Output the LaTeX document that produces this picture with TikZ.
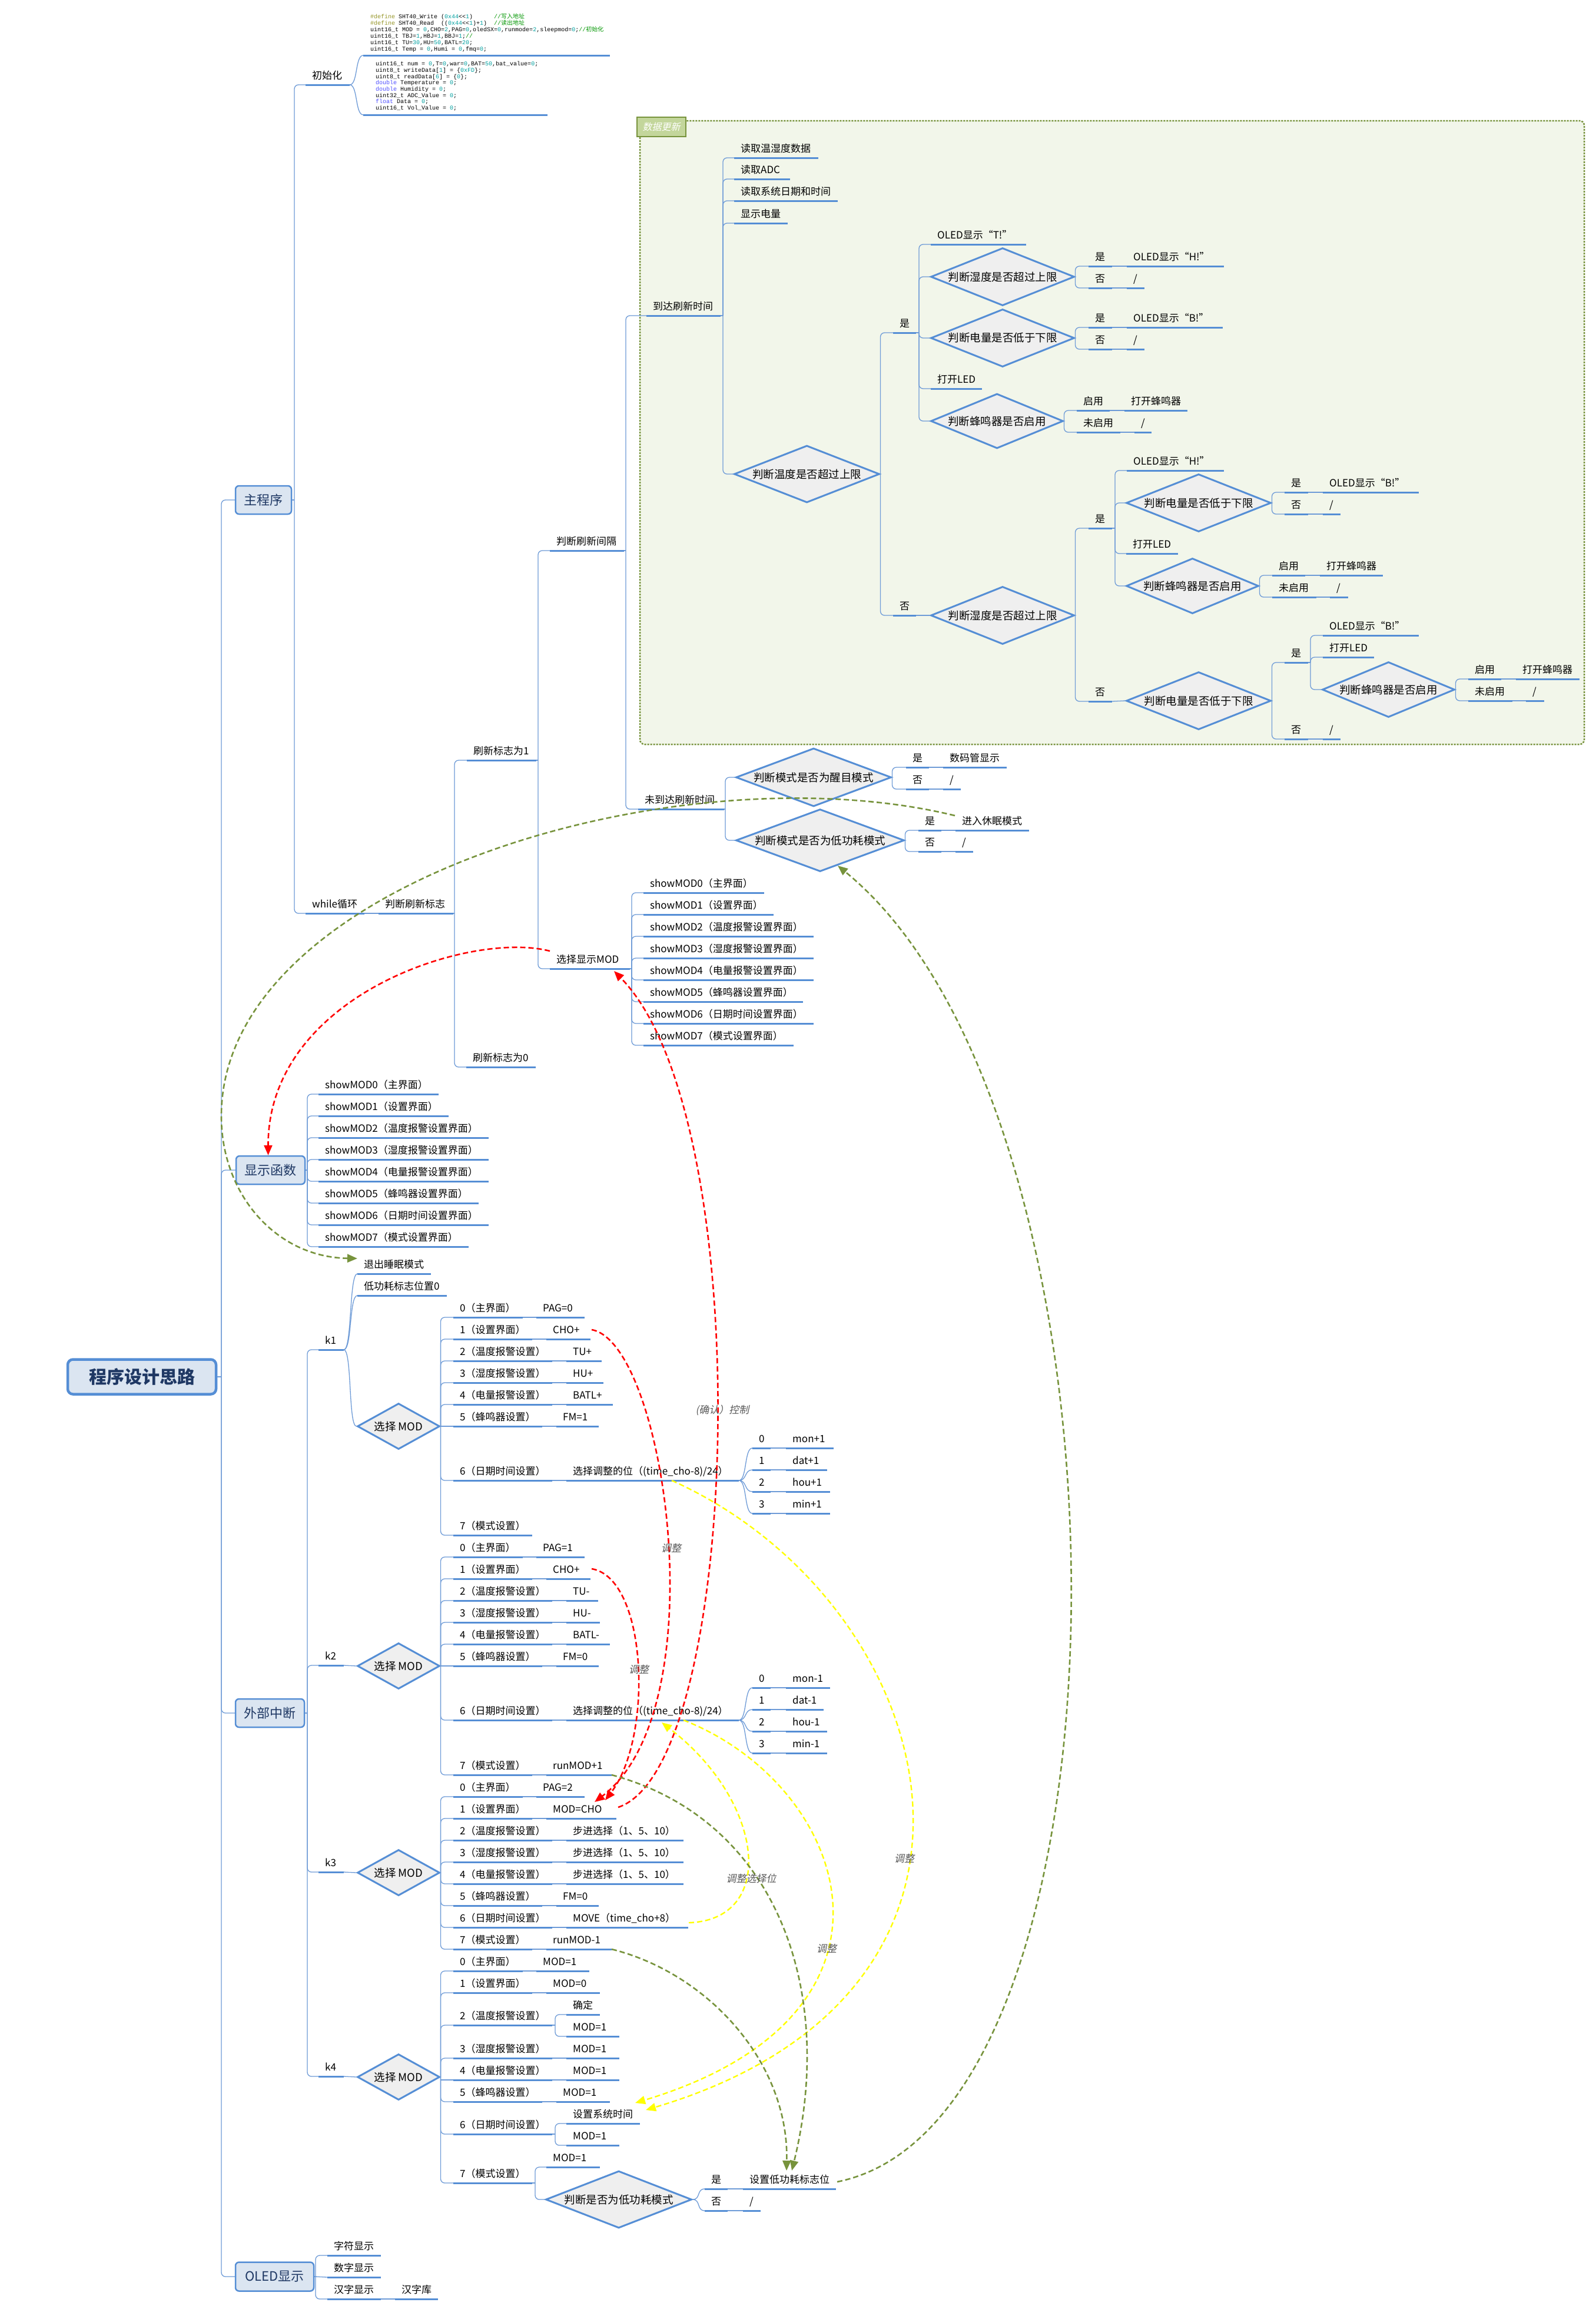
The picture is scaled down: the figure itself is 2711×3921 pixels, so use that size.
\documentclass[tikz,border=0pt]{standalone}
\usepackage{fontspec}
\setmainfont{Noto Sans CJK SC}
\newfontfamily\cjkit[FakeSlant=0.2]{Noto Sans CJK SC}
\newfontfamily\cjkc{Noto Sans CJK SC}
\newfontfamily\codef{Liberation Mono}
\usetikzlibrary{shapes.geometric,arrows.meta}
\definecolor{ublue}{RGB}{85,142,213}
\definecolor{cline}{RGB}{110,155,215}
\definecolor{dfill}{RGB}{239,239,239}
\definecolor{bfill}{RGB}{219,229,241}
\definecolor{navy}{RGB}{31,56,100}
\definecolor{olive}{RGB}{119,147,60}
\definecolor{dbg}{RGB}{242,246,234}
\definecolor{lfill}{RGB}{195,214,155}
\definecolor{cnum}{RGB}{0,160,160}
\definecolor{ccom}{RGB}{0,150,0}
\definecolor{cdef}{RGB}{150,150,40}
\definecolor{ckw}{RGB}{80,80,255}
\definecolor{lblgray}{RGB}{90,90,90}
\definecolor{yel}{RGB}{255,255,0}
\tikzset{
 conn/.style={draw=cline, line width=1.3pt, rounded corners=7pt},
 cconn/.style={draw=cline, line width=1.3pt},
 uline/.style={draw=ublue, line width=3pt},
 lt/.style={anchor=base west, inner sep=0pt, font=\fontsize{17}{20}\selectfont},
 dia/.style={diamond, draw=ublue, line width=3pt, fill=dfill, inner sep=0pt, shape aspect=2.5, font=\fontsize{18.5}{22}\selectfont},
 topbox/.style={draw=ublue, line width=2.5pt, fill=bfill, rounded corners=6pt, text=navy, font=\fontsize{22}{26}\selectfont, inner sep=0pt},
 arrR/.style={draw=red, line width=2.6pt, dash pattern=on 9pt off 5pt, -{Triangle[length=17pt,width=14pt]}},
 arrY/.style={draw=yel, line width=2.4pt, dash pattern=on 9pt off 5pt, -{Triangle[length=17pt,width=14pt]}},
 arrG/.style={draw=olive, line width=2.6pt, dash pattern=on 9pt off 5pt, -{Triangle[length=17pt,width=14pt]}},
 arrGn/.style={draw=olive, line width=2.6pt, dash pattern=on 9pt off 5pt},
 lbl/.style={font=\cjkit\fontsize{17}{20}\selectfont, text=lblgray, inner sep=0pt},
 code/.style={anchor=base west, inner sep=0pt, font=\codef\fontsize{10}{11}\selectfont},
}
\newcommand\LF[5]{\coordinate (#1s) at (#2,#4);\coordinate (#1e) at (#3,#4);\draw[uline] (#1s) -- (#1e);\node[lt] (#1) at (#2+11,#4-10) {#5};}
\newcommand\PR[8]{\LF{#1}{#2}{#3}{#4}{#5}\LF{#1v}{#6}{#7}{#4}{#8}\draw[cconn] (#1e) -- (#1vs);}
\newcommand\OPV[7]{\PR{#1}{770}{#3}{#2}{#4}{#5}{#6}{#7}}
\newcommand\DM[6]{\node[dia, minimum width=#4pt, minimum height=#5pt] (#1) at (#2,#3) {#6};}
\newcommand\BR[3]{\draw[conn] (#1 -| #2) |- (#3);}
\newcommand\BD[2]{\draw[conn] (#1.east) |- (#2);}
\newcommand\ST[2]{\draw[cconn] (#1) -- (#1 -| #2);}
\newcommand\CU[2]{\draw[cconn] (#1) .. controls +(14,0) and +(-14,0) .. (#2);}
\newcommand\NM[1]{\textcolor{cnum}{#1}}
\begin{document}
\begin{tikzpicture}[x=1pt,y=-1pt]
\useasboundingbox (0,0) rectangle (2711,3921);
\fill[white] (0,0) rectangle (2711,3921);
% data update area
\draw[olive, line width=2.5pt, dash pattern=on 3pt off 2pt, fill=dbg, rounded corners=8pt] (1087,205) rectangle (2691,1264);
\node[draw=olive, line width=2.5pt, fill=lfill, minimum width=83pt, minimum height=33pt, inner sep=0pt, text=white, font=\cjkit\fontsize{16}{18}\selectfont] (dlab) at (1123.5,215.5) {数据更新};
% root and level-1
\node[topbox, line width=4.5pt, rounded corners=9pt, minimum width=252pt, minimum height=59pt, font=\bfseries\fontsize{30}{36}\selectfont] (root) at (241,2338) {程序设计思路};
\node[topbox, minimum width=95pt, minimum height=48pt] (zhu) at (447.5,849) {主程序};
\node[topbox, minimum width=117pt, minimum height=48pt] (xsh) at (459.5,1987) {显示函数};
\node[topbox, minimum width=117pt, minimum height=48pt] (ext) at (458.5,2909) {外部中断};
\node[topbox, minimum width=133pt, minimum height=49pt] (ol) at (466.5,3866) {OLED显示};
\coordinate (tr) at (376,0);
\ST{root.east}{tr}
\BR{root.east}{tr}{zhu.west}\BR{root.east}{tr}{xsh.west}\BR{root.east}{tr}{ext.west}\BR{root.east}{tr}{ol.west}
% main program
\coordinate (b0) at (500,0);
\LF{init}{519}{594}{144}{初始化}
\LF{wh}{519}{619}{1551}{while循环}
\ST{zhu.east}{b0}\BR{zhu.east}{b0}{inits}\BR{zhu.east}{b0}{whs}
\coordinate (cbas) at (617,94);\coordinate (cbae) at (1036,94);\draw[uline] (cbas) -- (cbae);
\coordinate (cbbs) at (617,195);\coordinate (cbbe) at (930,195);\draw[uline] (cbbs) -- (cbbe);
\CU{inite}{cbas}\CU{inite}{cbbs}
\node[code] (c1) at (629,31.5) {\textcolor{cdef}{\#define} SHT40\_Write (\NM{0x44}<\kern0pt<\NM{1})~~~~~~\textcolor{ccom}{//{\cjkc 写入地址}}};
\node[code] (c2) at (629,42.5) {\textcolor{cdef}{\#define} SHT40\_Read~~((\NM{0x44}<\kern0pt<\NM{1})+\NM{1})~~\textcolor{ccom}{//{\cjkc 读出地址}}};
\node[code] (c3) at (629,53.5) {uint16\_t MOD = \NM{0},CHO=\NM{2},PAG=\NM{0},oledSX=\NM{0},runmode=\NM{2},sleepmod=\NM{0};\textcolor{ccom}{//{\cjkc 初始化}}};
\node[code] (c4) at (629,64.5) {uint16\_t TBJ=\NM{1},HBJ=\NM{1},BBJ=\NM{1};\textcolor{ccom}{//}};
\node[code] (c5) at (629,75.5) {uint16\_t TU=\NM{30},HU=\NM{50},BATL=\NM{20};};
\node[code] (c6) at (629,86.5) {uint16\_t Temp = \NM{0},Humi = \NM{0},fmq=\NM{0};};
\node[code] (d1) at (638,111.5) {uint16\_t num = \NM{0},T=\NM{0},war=\NM{0},BAT=\NM{50},bat\_value=\NM{0};};
\node[code] (d2) at (638,122.5) {uint8\_t writeData[\NM{1}] = \{\NM{0xFD}\};};
\node[code] (d3) at (638,133.5) {uint8\_t readData[\NM{6}] = \{\NM{0}\};};
\node[code] (d4) at (638,143.5) {\textcolor{ckw}{double} Temperature = \NM{0};};
\node[code] (d5) at (638,154.5) {\textcolor{ckw}{double} Humidity = \NM{0};};
\node[code] (d6) at (638,165.5) {uint32\_t ADC\_Value = \NM{0};};
\node[code] (d7) at (638,175.5) {\textcolor{ckw}{float} Data = \NM{0};};
\node[code] (d8) at (638,186.5) {uint16\_t Vol\_Value = \NM{0};};
\LF{pd}{643}{770}{1551}{判断刷新标志}
\draw[cconn] (whe) -- (pds);
\coordinate (b1) at (772,0);
\LF{fa}{793}{911}{1291}{刷新标志为1}
\LF{fb}{792}{910}{1812}{刷新标志为0}
\ST{pde}{b1}\BR{pde}{b1}{fas}\BR{pde}{b1}{fbs}
\coordinate (b2) at (914,0);
\LF{jg}{934}{1060}{935}{判断刷新间隔}
\LF{xs}{934}{1070}{1645}{选择显示MOD}
\ST{fae}{b2}\BR{fae}{b2}{jgs}\BR{fae}{b2}{xss}
\coordinate (b3) at (1063,0);
\LF{dd}{1098}{1224}{536}{到达刷新时间}
\LF{wd}{1084}{1230}{1374}{未到达刷新时间}
\ST{jge}{b3}\BR{jge}{b3}{dds}\BR{jge}{b3}{wds}
\coordinate (b4) at (1228,0);
\LF{ra}{1247}{1390}{268}{读取温湿度数据}
\LF{rb}{1247}{1342}{304}{读取ADC}
\LF{rc}{1247}{1423}{341}{读取系统日期和时间}
\LF{rd}{1247}{1338}{379}{显示电量}
\DM{D1}{1370.5}{805}{247}{97}{判断温度是否超过上限}
\ST{dde}{b4}\BR{dde}{b4}{ras}\BR{dde}{b4}{rbs}\BR{dde}{b4}{rcs}\BR{dde}{b4}{rds}\BR{dde}{b4}{D1.west}
\LF{ya}{1517}{1556}{565}{是}
\LF{na}{1517}{1556}{1045}{否}
\BD{D1}{yas}\BD{D1}{nas}
\coordinate (b6) at (1561,0);
\LF{ot}{1581}{1743}{415}{OLED显示“T!”}
\DM{D2}{1703}{470}{244}{98}{判断湿度是否超过上限}
\DM{D3}{1703}{574}{244}{98}{判断电量是否低于下限}
\LF{la}{1581}{1668}{660}{打开LED}
\DM{D4}{1693.5}{715}{225}{93}{判断蜂鸣器是否启用}
\ST{yae}{b6}\BR{yae}{b6}{ots}\BR{yae}{b6}{D2.west}\BR{yae}{b6}{D3.west}\BR{yae}{b6}{las}\BR{yae}{b6}{D4.west}
\PR{yb}{1849}{1889}{452}{是}{1914}{2079}{OLED显示“H!”}
\PR{nb}{1849}{1889}{489}{否}{1914}{1944}{/}
\BD{D2}{ybs}\BD{D2}{nbs}
\PR{yc}{1849}{1889}{556}{是}{1914}{2077}{OLED显示“B!”}
\PR{nc}{1849}{1889}{593}{否}{1914}{1944}{/}
\BD{D3}{ycs}\BD{D3}{ncs}
\PR{yd}{1829}{1885}{697}{启用}{1910}{2017}{打开蜂鸣器}
\PR{nd}{1829}{1903}{734}{未启用}{1927}{1956}{/}
\BD{D4}{yds}\BD{D4}{nds}
\DM{D5}{1703}{1045}{244}{98}{判断湿度是否超过上限}
\draw[cconn] (nae) -- (D5.west);
\LF{ye}{1849}{1889}{897}{是}
\LF{ne}{1849}{1889}{1191}{否}
\BD{D5}{yes}\BD{D5}{nes}
\coordinate (b9) at (1894,0);
\LF{vf}{1914}{2079}{799}{OLED显示“H!”}
\DM{D6}{2036}{854}{246}{98}{判断电量是否低于下限}
\LF{lb}{1913}{2001}{940}{打开LED}
\DM{D7}{2025.5}{995}{225}{94}{判断蜂鸣器是否启用}
\ST{yee}{b9}\BR{yee}{b9}{vfs}\BR{yee}{b9}{D6.west}\BR{yee}{b9}{lbs}\BR{yee}{b9}{D7.west}
\PR{yg}{2182}{2222}{836}{是}{2247}{2410}{OLED显示“B!”}
\PR{ng}{2182}{2222}{873}{否}{2247}{2277}{/}
\BD{D6}{ygs}\BD{D6}{ngs}
\PR{yh}{2161}{2217}{977}{启用}{2242}{2349}{打开蜂鸣器}
\PR{nh}{2161}{2236}{1014}{未启用}{2259}{2290}{/}
\BD{D7}{yhs}\BD{D7}{nhs}
\DM{D8}{2036}{1190}{246}{98}{判断电量是否低于下限}
\draw[cconn] (nee) -- (D8.west);
\LF{yi}{2182}{2222}{1125}{是}
\PR{ni}{2182}{2222}{1255}{否}{2247}{2277}{/}
\BD{D8}{yis}\BD{D8}{nis}
\coordinate (b12) at (2226,0);
\LF{vj}{2247}{2410}{1079}{OLED显示“B!”}
\LF{lc}{2247}{2334}{1116}{打开LED}
\DM{D9}{2358.5}{1171}{225}{94}{判断蜂鸣器是否启用}
\ST{yie}{b12}\BR{yie}{b12}{vjs}\BR{yie}{b12}{lcs}\BR{yie}{b12}{D9.west}
\PR{yk}{2494}{2550}{1153}{启用}{2575}{2683}{打开蜂鸣器}
\PR{nk}{2494}{2569}{1190}{未启用}{2592}{2623}{/}
\BD{D9}{yks}\BD{D9}{nks}
% not reached refresh time
\coordinate (b14) at (1232,0);
\DM{D10}{1382}{1320}{264}{99}{判断模式是否为醒目模式}
\DM{D11}{1393}{1427}{286}{104}{判断模式是否为低功耗模式}
\ST{wde}{b14}\BR{wde}{b14}{D10.west}\BR{wde}{b14}{D11.west}
\PR{yl}{1539}{1578}{1303}{是}{1602}{1710}{数码管显示}
\PR{nl}{1539}{1578}{1340}{否}{1602}{1632}{/}
\BD{D10}{yls}\BD{D10}{nls}
\PR{ym}{1560}{1599}{1410}{是}{1623}{1748}{进入休眠模式}
\PR{nm}{1560}{1599}{1446}{否}{1623}{1653}{/}
\BD{D11}{yms}\BD{D11}{nms}
% select display MOD
\coordinate (b17) at (1073,0);
\LF{sa0}{1093}{1298}{1516}{showMOD0（主界面）}
\LF{sa1}{1093}{1314}{1553}{showMOD1（设置界面）}
\LF{sa2}{1093}{1382}{1590}{showMOD2（温度报警设置界面）}
\LF{sa3}{1093}{1382}{1627}{showMOD3（湿度报警设置界面）}
\LF{sa4}{1093}{1382}{1664}{showMOD4（电量报警设置界面）}
\LF{sa5}{1093}{1364}{1701}{showMOD5（蜂鸣器设置界面）}
\LF{sa6}{1093}{1382}{1738}{showMOD6（日期时间设置界面）}
\LF{sa7}{1093}{1348}{1775}{showMOD7（模式设置界面）}
\ST{xse}{b17}
\foreach \i in {0,...,7} {\BR{xse}{b17}{sa\i s}}
% display functions
\coordinate (b18) at (522,0);
\LF{sb0}{541}{745}{1858}{showMOD0（主界面）}
\LF{sb1}{541}{762}{1895}{showMOD1（设置界面）}
\LF{sb2}{541}{830}{1932}{showMOD2（温度报警设置界面）}
\LF{sb3}{541}{830}{1969}{showMOD3（湿度报警设置界面）}
\LF{sb4}{541}{830}{2006}{showMOD4（电量报警设置界面）}
\LF{sb5}{541}{813}{2043}{showMOD5（蜂鸣器设置界面）}
\LF{sb6}{541}{830}{2080}{showMOD6（日期时间设置界面）}
\LF{sb7}{541}{796}{2117}{showMOD7（模式设置界面）}
\ST{xsh.east}{b18}
\foreach \i in {0,...,7} {\BR{xsh.east}{b18}{sb\i s}}
% external interrupt
\coordinate (b19) at (522,0);
\LF{ka}{541}{584}{2292}{k1}
\LF{kb}{541}{584}{2828}{k2}
\LF{kc}{541}{584}{3179}{k3}
\LF{kd}{541}{584}{3526}{k4}
\ST{ext.east}{b19}\BR{ext.east}{b19}{kas}\BR{ext.east}{b19}{kbs}\BR{ext.east}{b19}{kcs}\BR{ext.east}{b19}{kds}
% k1
\LF{tc}{607}{732}{2163}{退出睡眠模式}
\LF{dg}{607}{759}{2200}{低功耗标志位置0}
\DM{K1}{677}{2422}{140}{78}{选择 MOD}
\CU{kae}{tcs}\CU{kae}{dgs}\CU{kae}{K1.west}
\OPV{a0}{2237}{888}{0（主界面）}{911}{993}{PAG=0}
\OPV{a1}{2274}{904}{1（设置界面）}{928}{1003}{CHO+}
\OPV{a2}{2311}{938}{2（温度报警设置）}{962}{1022}{TU+}
\OPV{a3}{2348}{938}{3（湿度报警设置）}{962}{1025}{HU+}
\OPV{a4}{2385}{938}{4（电量报警设置）}{962}{1041}{BATL+}
\OPV{a5}{2422}{921}{5（蜂鸣器设置）}{945}{1017}{FM=1}
\OPV{a6}{2514}{938}{6（日期时间设置）}{962}{1255}{选择调整的位（(time\_cho-8)/24）}
\LF{a7}{770}{904}{2607}{7（模式设置）}
\foreach \n in {a0,a1,a2,a3,a4,a6,a7} {\BD{K1}{\n s}}
\draw[cconn] (K1.east) -- (a5s);
\PR{da0}{1278}{1309}{2459}{0}{1335}{1416}{mon+1}
\PR{da1}{1278}{1309}{2496}{1}{1335}{1405}{dat+1}
\PR{da2}{1278}{1309}{2533}{2}{1335}{1410}{hou+1}
\PR{da3}{1278}{1309}{2570}{3}{1335}{1410}{min+1}
\CU{a6ve}{da0s}\CU{a6ve}{da1s}\CU{a6ve}{da2s}\CU{a6ve}{da3s}
% k2
\DM{K2}{677}{2829}{140}{78}{选择 MOD}
\draw[cconn] (kbe) -- (K2.west);
\OPV{c0}{2644}{888}{0（主界面）}{911}{993}{PAG=1}
\OPV{c1}{2681}{904}{1（设置界面）}{928}{1003}{CHO+}
\OPV{c2}{2718}{938}{2（温度报警设置）}{962}{1016}{TU-}
\OPV{c3}{2755}{938}{3（湿度报警设置）}{962}{1019}{HU-}
\OPV{c4}{2792}{938}{4（电量报警设置）}{962}{1036}{BATL-}
\OPV{c5}{2829}{921}{5（蜂鸣器设置）}{945}{1017}{FM=0}
\OPV{c6}{2921}{938}{6（日期时间设置）}{962}{1255}{选择调整的位（(time\_cho-8)/24）}
\OPV{c7}{3014}{904}{7（模式设置）}{928}{1039}{runMOD+1}
\foreach \n in {c0,c1,c2,c3,c4,c6,c7} {\BD{K2}{\n s}}
\draw[cconn] (K2.east) -- (c5s);
\PR{db0}{1278}{1309}{2866}{0}{1335}{1410}{mon-1}
\PR{db1}{1278}{1309}{2903}{1}{1335}{1399}{dat-1}
\PR{db2}{1278}{1309}{2940}{2}{1335}{1405}{hou-1}
\PR{db3}{1278}{1309}{2977}{3}{1335}{1405}{min-1}
\CU{c6ve}{db0s}\CU{c6ve}{db1s}\CU{c6ve}{db2s}\CU{c6ve}{db3s}
% k3
\DM{K3}{677}{3180}{140}{78}{选择 MOD}
\draw[cconn] (kce) -- (K3.west);
\OPV{e0}{3051}{888}{0（主界面）}{911}{993}{PAG=2}
\OPV{e1}{3088}{904}{1（设置界面）}{928}{1047}{MOD=CHO}
\OPV{e2}{3125}{938}{2（温度报警设置）}{962}{1161}{步进选择（1、5、10）}
\OPV{e3}{3162}{938}{3（湿度报警设置）}{962}{1161}{步进选择（1、5、10）}
\OPV{e4}{3199}{938}{4（电量报警设置）}{962}{1161}{步进选择（1、5、10）}
\OPV{e5}{3236}{921}{5（蜂鸣器设置）}{945}{1017}{FM=0}
\OPV{e6}{3273}{938}{6（日期时间设置）}{962}{1169}{MOVE（time\_cho+8）}
\OPV{e7}{3310}{904}{7（模式设置）}{928}{1039}{runMOD-1}
\foreach \n in {e0,e1,e2,e3,e4,e5,e6,e7} {\BD{K3}{\n s}}
% k4
\DM{K4}{677}{3527}{140}{78}{选择 MOD}
\draw[cconn] (kde) -- (K4.west);
\OPV{g0}{3347}{888}{0（主界面）}{911}{1001}{MOD=1}
\OPV{g1}{3384}{904}{1（设置界面）}{928}{1019}{MOD=0}
\LF{g2}{770}{938}{3439}{2（温度报警设置）}
\OPV{g3}{3495}{938}{3（湿度报警设置）}{962}{1052}{MOD=1}
\OPV{g4}{3532}{938}{4（电量报警设置）}{962}{1052}{MOD=1}
\OPV{g5}{3569}{921}{5（蜂鸣器设置）}{945}{1036}{MOD=1}
\LF{g6}{770}{938}{3624}{6（日期时间设置）}
\LF{g7}{770}{904}{3707}{7（模式设置）}
\foreach \n in {g0,g1,g2,g3,g5,g6,g7} {\BD{K4}{\n s}}
\draw[cconn] (K4.east) |- (g4s);
\coordinate (bg2) at (943,0);
\LF{g2a}{962}{1019}{3421}{确定}
\LF{g2b}{962}{1052}{3458}{MOD=1}
\ST{g2e}{bg2}\BR{g2e}{bg2}{g2as}\BR{g2e}{bg2}{g2bs}
\LF{g6a}{962}{1087}{3606}{设置系统时间}
\LF{g6b}{962}{1052}{3643}{MOD=1}
\ST{g6e}{bg2}\BR{g6e}{bg2}{g6as}\BR{g6e}{bg2}{g6bs}
\coordinate (bg7) at (909,0);
\LF{g7a}{928}{1019}{3680}{MOD=1}
\DM{DL}{1051}{3735}{248}{97}{判断是否为低功耗模式}
\ST{g7e}{bg7}\BR{g7e}{bg7}{g7as}\BR{g7e}{bg7}{DL.west}
\PR{yn}{1197}{1236}{3717}{是}{1262}{1420}{设置低功耗标志位}
\PR{nn}{1197}{1236}{3754}{否}{1262}{1292}{/}
\CU{DL.east}{yns}\CU{DL.east}{nns}
% OLED
\coordinate (b20) at (536,0);
\LF{oa}{556}{647}{3830}{字符显示}
\LF{ob}{556}{647}{3867}{数字显示}
\PR{oc}{556}{647}{3904}{汉字显示}{671}{744}{汉字库}
\ST{ol.east}{b20}\BR{ol.east}{b20}{oas}\draw[cconn] (ol.east -| b20) -- (obs);\BR{ol.east}{b20}{ocs}
% dashed relation arrows
\coordinate (rA1) at (934,1615);
\draw[arrR] (rA1) .. controls (800,1580) and (455,1690) .. ([xshift=-4pt]xsh.north);
\coordinate (rA2) at (1005,2258);
\coordinate (rT2) at (1010,3060);
\draw[arrR] (rA2) .. controls (1130,2280) and (1220,2900) .. (rT2);
\coordinate (rA3) at (1005,2664);
\coordinate (rT3) at (1028,3057);
\draw[arrR] (rA3) .. controls (1100,2680) and (1110,2950) .. (rT3);
\coordinate (rA4) at (1050,3069);
\coordinate (rT4) at (1043,1649);
\draw[arrR] (rA4) .. controls (1260,3000) and (1290,1900) .. (rT4);
\coordinate (yA1) at (1141,2514);
\coordinate (yT1) at (1097,3583);
\draw[arrY] (yA1) .. controls (1600,2720) and (1780,3380) .. (yT1);
\coordinate (yA2) at (1161,2921);
\coordinate (yT2) at (1079,3571);
\draw[arrY] (yA2) .. controls (1440,3030) and (1580,3420) .. (yT2);
\coordinate (yA3) at (1170,3265);
\coordinate (yT3) at (1124,2925);
\draw[arrY] (yA3) .. controls (1320,3260) and (1300,3060) .. (yT3);
\coordinate (gA1) at (1622,1385);
\coordinate (gM1) at (376,1900);
\coordinate (gT1) at (607,2137);
\draw[arrG] (gA1) .. controls (1150,1270) and (370,1500) .. (gM1) .. controls (378,2030) and (470,2135) .. (gT1);
\coordinate (gA2) at (1039,3014);
\coordinate (gT2) at (1345,3686);
\draw[arrG] (gA2) .. controls (1320,3090) and (1420,3380) .. (gT2);
\coordinate (gA3) at (1039,3310);
\coordinate (gT3) at (1336,3686);
\draw[arrG] (gA3) .. controls (1200,3350) and (1340,3500) .. (gT3);
\coordinate (gA4) at (1422,3705);
\coordinate (gT4) at (1423,1470);
\draw[arrG] (gA4) .. controls (1950,3600) and (1950,1900) .. (gT4);
% labels
\node[lbl] (l1) at (1227,2395) {(确认）控制};
\node[lbl] (l2) at (1140,2629) {调整};
\node[lbl] (l3) at (1085,2835) {调整};
\node[lbl] (l4) at (1536,3156) {调整};
\node[lbl] (l5) at (1404,3309) {调整};
\node[lbl] (l6) at (1276,3190) {调整选择位};
\end{tikzpicture}
\end{document}
